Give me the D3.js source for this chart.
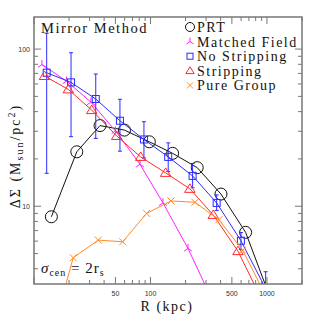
<!DOCTYPE html>
<html>
<head>
<meta charset="utf-8">
<script src="https://cdn.jsdelivr.net/npm/d3@7"></script>
<style>
body { margin: 0; background: #fff; }
text { font-family: "Liberation Serif", serif; fill: #111; }
.tick-label { font-family: "Liberation Sans", sans-serif; font-size: 7px; fill: #333; letter-spacing: 0; }
</style>
</head>
<body>
<svg width="319" height="319"></svg>
<script>
// PRT (black circles)
var prtR = [14.1, 23.3, 36.9, 59.8, 97.8, 155, 252, 403, 656, 1070];
var prtS = [8.57, 22.2, 32.6, 30.5, 25.7, 21.7, 17.6, 11.95, 6.82, 2.6];

// Matched Field (magenta)
var mfR = [11.7, 19.0, 30.8, 50.1, 81.3, 128, 210, 340];
var mfS = [79.7, 62.6, 46.0, 30.1, 18.5, 10.5, 5.39, 2.52];

// No Stripping (blue squares, with error bars)
var nsR = [12.85, 20.8, 33.9, 54.7, 87.9, 142, 230, 370, 598, 975];
var nsS = [70.7, 61.4, 48.1, 35.0, 26.6, 20.6, 15.6, 10.5, 6.03, 2.99];
var nsLo = [16.2, 27.7, 27.0, 22.4, 20.3, 16.6, 13.1, 9.4, 5.3, 2.3];
var nsHi = [126, 94.8, 69.4, 47.9, 34.5, 25.3, 18.7, 11.8, 6.8, 3.83];

// Stripping (red triangles)
var stR = [12.3, 19.7, 31.3, 51.3, 82.4, 135, 218, 346, 564, 912];
var stS = [67.4, 55.4, 40.9, 28.0, 20.6, 16.3, 12.9, 8.8, 5.18, 2.5];

// Pure Group (orange crosses)
var pgR = [13.45, 21.7, 35.6, 57.7, 92.7, 150, 241, 387, 618, 1000];
var pgS = [1.3, 4.70, 6.09, 5.94, 9.0, 10.8, 10.6, 8.2, 5.26, 2.6];

var xTickLabels = [50, 100, 500, 1000];
var yTickLabels = [10, 100];

var svg = d3.select('svg');
var pLeft = 34, pRight = 302, pTop = 17, pBottom = 284;
var axisColor = "#777";

var x = d3.scaleLog().domain([10, 2000]).range([pLeft, pRight]);
var y = d3.scaleLog().domain([3.2, 160]).range([pBottom, pTop]);

svg.append("clipPath").attr("id", "plotclip")
    .append("rect")
    .attr("x", pLeft).attr("y", pTop)
    .attr("width", pRight - pLeft).attr("height", pBottom - pTop);

var plot = svg.append("g").attr("clip-path", "url(#plotclip)");

function zip(rs, ss) {
    return rs.map(function(r, i) { return {r: r, s: ss[i], i: i}; });
}

var line = d3.line()
    .x(function(d) { return x(d.r); })
    .y(function(d) { return y(d.s); });

function drawLine(data, color) {
    plot.append("path")
        .datum(data)
        .attr("d", line)
        .attr("fill", "none")
        .attr("stroke", color)
        .attr("stroke-width", 1);
}

// marker shapes
function circleMark(g, size, color) {
    g.append("circle").attr("r", size).attr("fill", "none")
        .attr("stroke", color).attr("stroke-width", 1);
}
function squareMark(g, size, color) {
    g.append("rect").attr("x", -size).attr("y", -size)
        .attr("width", size * 2).attr("height", size * 2)
        .attr("fill", "none").attr("stroke", color).attr("stroke-width", 1);
}
function triMark(g, size, color) {
    g.append("path")
        .attr("d", "M0," + (-size) + "L" + (size * 1.05) + "," + (size * 0.7) +
            "L" + (-size * 1.05) + "," + (size * 0.7) + "Z")
        .attr("fill", "none").attr("stroke", color).attr("stroke-width", 1);
}
function forkMark(g, size, color) {
    g.append("path")
        .attr("d", "M0,0L0," + (-size) + "M0,0L" + (-size * 0.87) + "," + (size * 0.6) +
            "M0,0L" + (size * 0.87) + "," + (size * 0.6))
        .attr("fill", "none").attr("stroke", color).attr("stroke-width", 1);
}
function crossMark(g, size, color) {
    g.append("path")
        .attr("d", "M" + (-size) + "," + (-size) + "L" + size + "," + size +
            "M" + (-size) + "," + size + "L" + size + "," + (-size))
        .attr("fill", "none").attr("stroke", color).attr("stroke-width", 1);
}

function drawMarks(data, shape, size, color) {
    plot.append("g")
        .selectAll("g")
        .data(data)
        .enter()
        .append("g")
        .attr("transform", function(d) {
            return "translate(" + x(d.r) + "," + y(d.s) + ")";
        })
        .each(function() { shape(d3.select(this), size, color); });
}

var colBlack = "#111", colMag = "#ff22ff", colBlue = "#2b2bff",
    colRed = "#ff2a2a", colOrange = "#ff8c22";

var prt = zip(prtR, prtS);
var mf = zip(mfR, mfS);
var ns = zip(nsR, nsS);
var st = zip(stR, stS);
var pg = zip(pgR, pgS);

drawLine(prt, colBlack);
drawMarks(prt, circleMark, 6, colBlack);

drawLine(mf, colMag);
drawMarks(mf, forkMark, 4.5, colMag);

drawLine(ns, colBlue);
drawMarks(ns, squareMark, 3.5, colBlue);
// error bars on No Stripping
var eb = plot.append("g").selectAll("g").data(ns).enter().append("g");
eb.append("line")
    .attr("x1", function(d) { return x(d.r); })
    .attr("x2", function(d) { return x(d.r); })
    .attr("y1", function(d, i) { return y(nsLo[i]); })
    .attr("y2", function(d, i) { return y(nsHi[i]); })
    .attr("stroke", colBlue).attr("stroke-width", 1);
[nsLo, nsHi].forEach(function(arr) {
    eb.append("line")
        .attr("x1", function(d) { return x(d.r) - 2; })
        .attr("x2", function(d) { return x(d.r) + 2; })
        .attr("y1", function(d, i) { return y(arr[i]); })
        .attr("y2", function(d, i) { return y(arr[i]); })
        .attr("stroke", colBlue).attr("stroke-width", 1);
});

drawLine(st, colRed);
drawMarks(st, triMark, 5, colRed);

drawLine(pg, colOrange);
drawMarks(pg, crossMark, 3.5, colOrange);

// frame
svg.append("rect")
    .attr("x", pLeft).attr("y", pTop)
    .attr("width", pRight - pLeft).attr("height", pBottom - pTop)
    .attr("fill", "none").attr("stroke", axisColor).attr("stroke-width", 1.5);

// log ticks, drawn inward on all four sides
var xTicks = [], yTicks = [];
[10, 100, 1000].forEach(function(dec) {
    for (var k = 1; k < 10; k++) {
        var v = dec * k;
        if (v >= 10 && v <= 2000) xTicks.push(v);
    }
});
[1, 10, 100].forEach(function(dec) {
    for (var k = 1; k < 10; k++) {
        var v = dec * k;
        if (v >= 3.2 && v <= 160) yTicks.push(v);
    }
});
function isMajor(v) {
    var l = Math.log10(v);
    return Math.abs(l - Math.round(l)) < 1e-6;
}

var tk = svg.append("g").attr("stroke", axisColor).attr("stroke-width", 1);
xTicks.forEach(function(v) {
    var len = (isMajor(v) || xTickLabels.indexOf(v) >= 0) ? 7 : 4;
    tk.append("line").attr("x1", x(v)).attr("x2", x(v))
        .attr("y1", pBottom).attr("y2", pBottom - len);
    tk.append("line").attr("x1", x(v)).attr("x2", x(v))
        .attr("y1", pTop).attr("y2", pTop + len);
});
yTicks.forEach(function(v) {
    var len = isMajor(v) ? 7 : 4;
    tk.append("line").attr("y1", y(v)).attr("y2", y(v))
        .attr("x1", pLeft).attr("x2", pLeft + len);
    tk.append("line").attr("y1", y(v)).attr("y2", y(v))
        .attr("x1", pRight).attr("x2", pRight - len);
});

svg.append("g").selectAll("text")
    .data(xTickLabels).enter().append("text")
    .attr("class", "tick-label")
    .attr("x", function(d) { return x(d); })
    .attr("y", pBottom + 12)
    .attr("text-anchor", "middle")
    .text(function(d) { return d; });

svg.append("g").selectAll("text")
    .data(yTickLabels).enter().append("text")
    .attr("class", "tick-label")
    .attr("x", pLeft - 4)
    .attr("y", function(d) { return y(d) + 2.5; })
    .attr("text-anchor", "end")
    .text(function(d) { return d; });

// axis titles
svg.append("text")
    .attr("x", 167).attr("y", 311)
    .attr("text-anchor", "middle")
    .attr("font-size", 14)
    .attr("letter-spacing", 1.5)
    .text("R (kpc)");

var yl = svg.append("text")
    .attr("transform", "translate(20,156) rotate(-90)")
    .attr("text-anchor", "middle")
    .attr("font-size", 14)
    .attr("letter-spacing", 2);
yl.append("tspan").text("ΔΣ (M");
yl.append("tspan").attr("font-size", 10).attr("dy", 3).text("sun");
yl.append("tspan").attr("dy", -3).text("/pc");
yl.append("tspan").attr("font-size", 10).attr("dy", -5).text("2");
yl.append("tspan").attr("dy", 5).text(")");

// annotations
svg.append("text")
    .attr("x", 41).attr("y", 33)
    .attr("font-size", 14.5)
    .attr("letter-spacing", 1.5)
    .text("Mirror Method");

var sg = svg.append("text")
    .attr("x", 41).attr("y", 273)
    .attr("font-size", 15)
    .attr("letter-spacing", 1);
sg.append("tspan").attr("font-style", "italic").text("σ");
sg.append("tspan").attr("font-size", 10).attr("dy", 3).text("cen");
sg.append("tspan").attr("dy", -3).text(" =  2r");
sg.append("tspan").attr("font-size", 10).attr("dy", 3).text("s");

// legend
var legendNames = ["PRT", "Matched Field", "No Stripping", "Stripping", "Pure Group"];
var legendShapes = [circleMark, forkMark, squareMark, triMark, crossMark];
var legendSizes = [4.5, 4, 3, 4, 3];
var legendColors = [colBlack, colMag, colBlue, colRed, colOrange];

var lg = svg.append("g").selectAll("g")
    .data(legendNames).enter().append("g")
    .attr("transform", function(d, i) {
        return "translate(190," + (27 + i * 14.6) + ")";
    });
lg.each(function(d, i) {
    legendShapes[i](d3.select(this), legendSizes[i], legendColors[i]);
});
lg.append("text")
    .attr("x", 7).attr("y", 5)
    .attr("font-size", 14)
    .attr("letter-spacing", 1.5)
    .text(function(d) { return d; });
</script>
</body>
</html>
